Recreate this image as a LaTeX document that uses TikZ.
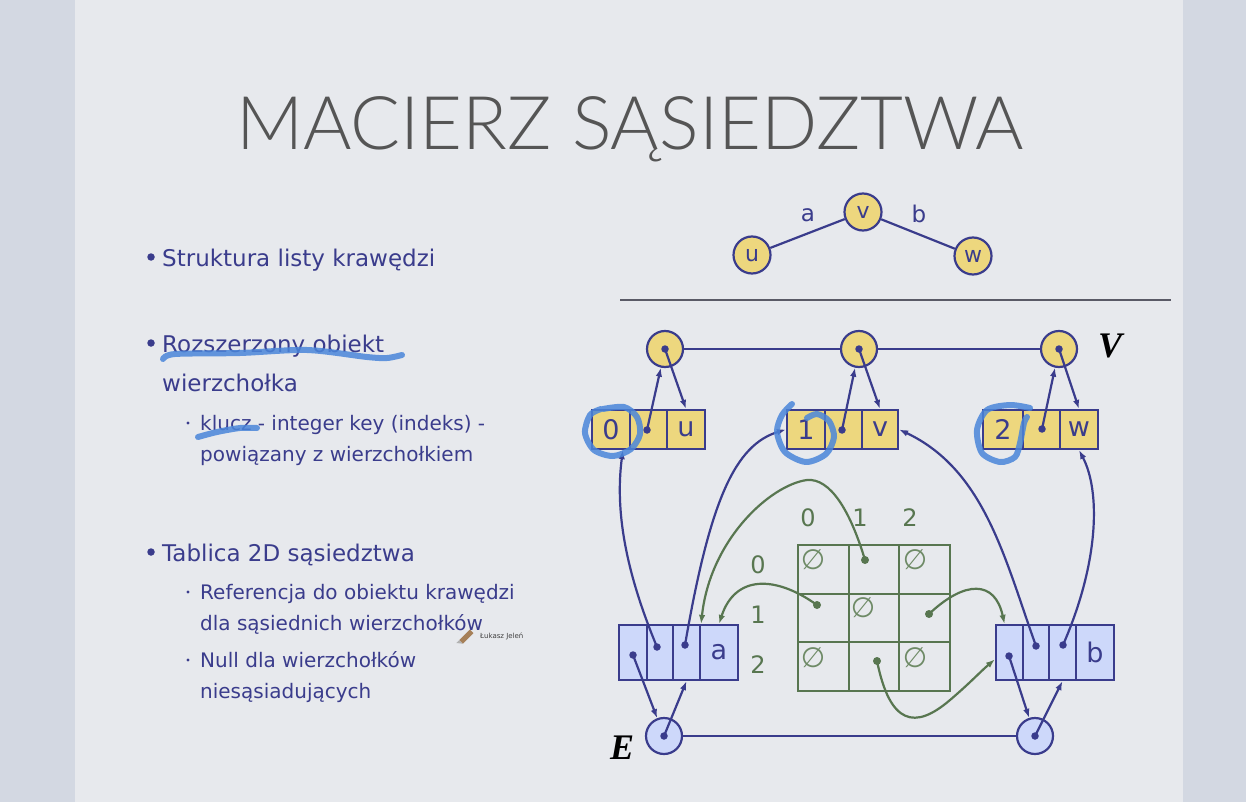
\documentclass[tikz,border=0pt]{standalone}
\usepackage{fontspec}
\setmainfont{DejaVu Sans}
\newfontfamily\titlefont{Lato}[UprightFont=* Light]
\newfontfamily\seriffont{Liberation Serif}
\usetikzlibrary{arrows.meta}
\definecolor{outerbg}{HTML}{D3D8E2}
\definecolor{slidebg}{HTML}{E7E9ED}
\definecolor{ink}{HTML}{3A3C8C}
\definecolor{titlegray}{HTML}{555555}
\definecolor{vfill}{HTML}{EDD77E}
\definecolor{efill}{HTML}{CDD8FA}
\definecolor{mgreen}{HTML}{587650}
\definecolor{nullgreen}{HTML}{6E8A66}
\definecolor{hl}{HTML}{4A86DA}
\definecolor{linegray}{HTML}{5A5A66}
\newcommand\setfs[1]{\fontsize{#1}{#1}\selectfont}
\begin{document}
\begin{tikzpicture}[x=1pt,y=-1pt,
  mainline/.style={anchor=base west, inner sep=0, text=ink, font=\setfs{23}},
  subline/.style={anchor=base west, inner sep=0, text=ink, font=\setfs{20}},
  bulletmain/.style={circle, fill=ink, inner sep=0, minimum size=7.5},
  bulletsub/.style={circle, fill=ink, inner sep=0, minimum size=3.4},
  vcirc/.style={circle, draw=ink, fill=vfill, line width=2.2, inner sep=0, minimum size=36},
  ecirc/.style={circle, draw=ink, fill=efill, line width=2.2, inner sep=0, minimum size=36},
  gcirc/.style={circle, draw=ink, fill=vfill, line width=2.2, inner sep=0, minimum size=37, font=\setfs{22}, text=ink},
  vcell/.style={draw=ink, fill=vfill, line width=2.2, inner sep=0, minimum height=39, font=\setfs{27}, text=ink},
  ecell/.style={draw=ink, fill=efill, line width=2.2, inner sep=0, minimum height=55, font=\setfs{27}, text=ink},
  mcell/.style={draw=mgreen, line width=2, inner sep=0, minimum width=50.7, minimum height=48.7},
  dotn/.style={circle, fill=ink, inner sep=0, minimum size=7.5},
  gdot/.style={circle, fill=mgreen, inner sep=0, minimum size=8},
  nullsym/.style={inner sep=0, text=nullgreen, font=\setfs{28}},
  mlabel/.style={inner sep=0, text=mgreen, font=\setfs{24}},
  link/.style={draw=ink, line width=2.2},
  ptr/.style={draw=ink, line width=2.2, -{Latex[length=9pt,width=6.5pt]}},
  gptr/.style={draw=mgreen, line width=2.2, -{Latex[length=9pt,width=6.5pt]}},
  marker/.style={draw=hl, opacity=0.85, line width=6, line cap=round, line join=round},
  listlabel/.style={inner sep=0, font=\seriffont\bfseries\itshape\setfs{36}}
]
% page and slide
\fill[outerbg] (0,0) rectangle (1246,802);
\fill[slidebg] (75,0) rectangle (1183,802);
\path[use as bounding box] (0,0) rectangle (1246,802);

% title
\node[anchor=base, inner sep=0, text=titlegray, font=\titlefont\setfs{74}] (title) at (630,150) {MACIERZ SĄSIEDZTWA};

% bullet list
\node[bulletmain] (b1) at (151,257) {};
\node[mainline] (t1) at (162,266) {Struktura listy krawędzi};
\node[bulletmain] (b2) at (151,343) {};
\node[mainline] (t2) at (162,352) {Rozszerzony obiekt};
\node[mainline] (t3) at (162,391) {wierzchołka};
\node[bulletsub] (s1) at (188,423) {};
\node[subline] (t4) at (200,430) {klucz - integer key (indeks) -};
\node[subline] (t5) at (200,461) {powiązany z wierzchołkiem};
\node[bulletmain] (b3) at (151,552) {};
\node[mainline] (t6) at (162,561) {Tablica 2D sąsiedztwa};
\node[bulletsub] (s2) at (188,592) {};
\node[subline] (t7) at (200,599) {Referencja do obiektu krawędzi};
\node[subline] (t8) at (200,630) {dla sąsiednich wierzchołków};
\node[bulletsub] (s3) at (188,660) {};
\node[subline] (t9) at (200,667) {Null dla wierzchołków};
\node[subline] (t10) at (200,698) {niesąsiadujących};

% comment author tag with pencil
\fill[gray!70!orange, rotate around={45:(466,637)}] (459,634.5) rectangle (474,639.5);
\fill[gray!60, rotate around={45:(466,637)}] (455,634.5) -- (459,634.5) -- (459,639.5) -- cycle;
\node[anchor=base west, inner sep=0, text=black!75, font=\setfs{7}] (author) at (480,638) {Łukasz Jeleń};

% small graph
\node[gcirc] (gu) at (752,255) {u};
\node[gcirc] (gv) at (863,212) {v};
\node[gcirc] (gw) at (973,256) {w};
\draw[link] (gu) -- (gv);
\draw[link] (gv) -- (gw);
\node[inner sep=0, text=ink, font=\setfs{23}] (la) at (808,215) {a};
\node[inner sep=0, text=ink, font=\setfs{23}] (lb) at (919,214) {b};

% separator
\coordinate (sepL) at (620,300);
\coordinate (sepR) at (1171,300);
\draw[draw=linegray, line width=1.6] (sepL) -- (sepR);

% vertex list V
\node[vcirc] (V0) at (665,349) {};
\node[vcirc] (V1) at (859,349) {};
\node[vcirc] (V2) at (1059,349) {};
\draw[link] (V0) -- (V1);
\draw[link] (V1) -- (V2);
\node[listlabel] (Vlab) at (1110,346) {V};

% vertex objects
\node[vcell, minimum width=38] (cv0a) at (611,429.5) {0};
\node[vcell, minimum width=37] (cv0b) at (648.5,429.5) {};
\node[vcell, minimum width=38] (cv0c) at (686,429.5) {u};
\node[vcell, minimum width=38] (cv1a) at (806,429.5) {1};
\node[vcell, minimum width=37] (cv1b) at (843.5,429.5) {};
\node[vcell, minimum width=36] (cv1c) at (880,429.5) {v};
\node[vcell, minimum width=40] (cv2a) at (1003,429.5) {2};
\node[vcell, minimum width=37] (cv2b) at (1041.5,429.5) {};
\node[vcell, minimum width=38] (cv2c) at (1079,429.5) {w};

\node[dotn] (dv0) at (647,430) {};
\node[dotn] (dv1) at (842,430) {};
\node[dotn] (dv2) at (1042,429) {};
\node[dotn] (V0d) at (V0.center) {};
\node[dotn] (V1d) at (V1.center) {};
\node[dotn] (V2d) at (V2.center) {};

\draw[ptr] (dv0.center) -- (V0);
\draw[ptr] (V0.center) -- (cv0c.north);
\draw[ptr] (dv1.center) -- (V1);
\draw[ptr] (V1.center) -- (cv1c.north);
\draw[ptr] (dv2.center) -- (V2);
\draw[ptr] (V2.center) -- (cv2c.north);

% edge list E
\node[ecirc] (E0) at (664,736) {};
\node[ecirc] (E1) at (1035,736) {};
\draw[link] (E0) -- (E1);
\node[listlabel] (Elab) at (622,748) {E};

% edge objects
\node[ecell, minimum width=28] (ca1) at (633,652.5) {};
\node[ecell, minimum width=26] (ca2) at (660,652.5) {};
\node[ecell, minimum width=27] (ca3) at (686.5,652.5) {};
\node[ecell, minimum width=38] (ca4) at (719,652.5) {a};
\node[ecell, minimum width=27] (cb1) at (1009.5,652.5) {};
\node[ecell, minimum width=26] (cb2) at (1036,652.5) {};
\node[ecell, minimum width=27] (cb3) at (1062.5,652.5) {};
\node[ecell, minimum width=38] (cb4) at (1095,652.5) {b};

\node[dotn] (da1) at (633,655) {};
\node[dotn] (da2) at (657,647) {};
\node[dotn] (da3) at (685,645) {};
\node[dotn] (db1) at (1009,656) {};
\node[dotn] (db2) at (1036,646) {};
\node[dotn] (db3) at (1063,645) {};
\node[dotn] (E0d) at (E0.center) {};
\node[dotn] (E1d) at (E1.center) {};

\draw[ptr] (da1.center) -- (E0);
\draw[ptr] (E0.center) -- (ca3.south);
\draw[ptr] (db1.center) -- (E1);
\draw[ptr] (E1.center) -- (cb3.south);

% endpoint references
\draw[ptr] (da2.center) .. controls (625,570) and (615,510) .. (cv0a.-60);
\draw[ptr] (da3.center) .. controls (710,500) and (735,445) .. (cv1a.west);
\draw[ptr] (db2.center) .. controls (1005,560) and (985,470) .. (cv1c.east);
\draw[ptr] (db3.center) .. controls (1100,560) and (1100,490) .. (cv2c.south);

% adjacency matrix
\foreach \r/\yy in {0/569.3,1/618,2/666.7}{
  \foreach \c/\xx in {0/823.3,1/874,2/924.7}{
    \node[mcell] (m\r\c) at (\xx,\yy) {};
  }
}
\node[mlabel] (col0) at (808,518) {0};
\node[mlabel] (col1) at (860,518) {1};
\node[mlabel] (col2) at (910,518) {2};
\node[mlabel] (row0) at (758,565) {0};
\node[mlabel] (row1) at (758,615) {1};
\node[mlabel] (row2) at (758,665) {2};

\node[nullsym] (n00) at (813,560) {∅};
\node[nullsym] (n02) at (915,560) {∅};
\node[nullsym] (n11) at (863,608) {∅};
\node[nullsym] (n20) at (813,658) {∅};
\node[nullsym] (n22) at (915,658) {∅};

\node[gdot] (g01) at (865,560) {};
\node[gdot] (g10) at (817,605) {};
\node[gdot] (g12) at (929,614) {};
\node[gdot] (g21) at (877,661) {};

\draw[gptr] (g01.center) .. controls (850,510) and (830,478) .. (807,480)
                         .. controls (770,485) and (710,540) .. (ca3.north east);
\draw[gptr] (g10.center) .. controls (775,575) and (735,575) .. (ca4.north);
\draw[gptr] (g12.center) .. controls (965,580) and (995,580) .. (cb1.100);
\draw[gptr] (g21.center) .. controls (890,725) and (915,730) .. (950,700)
                         .. controls (970,683) and (980,672) .. (cb1.205);

% highlighter strokes
\draw[marker] plot[smooth] coordinates {(163,359) (175,354) (240,353) (307,350) (367,357) (387,358) (402,355)};
\draw[marker] plot[smooth] coordinates {(198,437) (217,432) (240,428) (257,428)};
\draw[marker] plot[smooth] coordinates {(603,409) (624,407) (637,417) (640,434) (631,449) (613,456) (594,450) (585,433) (590,415) (601,409)};
\draw[marker] plot[smooth] coordinates {(792,404) (782,415) (777,432) (785,452) (806,462) (826,454) (834,437) (829,421) (817,414) (807,418)};
\draw[marker] plot[smooth] coordinates {(1030,408) (1010,405) (987,410) (977,430) (982,453) (1000,462) (1015,457) (1020,443) (1024,423) (1027,417)};
\end{tikzpicture}
\end{document}
